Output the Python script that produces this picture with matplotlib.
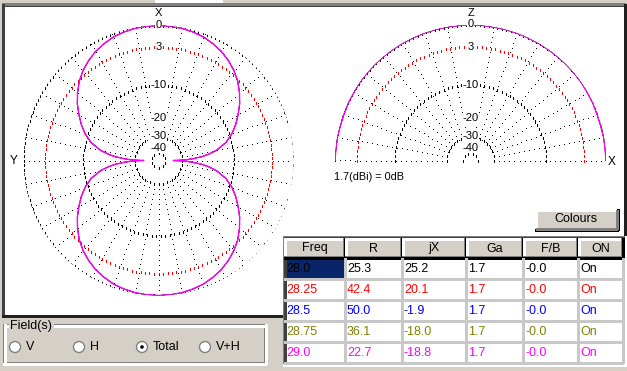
import numpy as np
import matplotlib
matplotlib.use("Agg")
import matplotlib.pyplot as plt
from matplotlib.patches import Rectangle, Circle

plt.rcParams['font.family'] = ['Liberation Sans', 'DejaVu Sans']

# ---------------- data ----------------
freqs = ["28.0", "28.25", "28.5", "28.75", "29.0"]
R_vals = [25.3, 42.4, 50.0, 36.1, 22.7]
jX_vals = [25.2, 20.1, -1.9, -18.0, -18.8]
Ga_vals = [1.7, 1.7, 1.7, 1.7, 1.7]
FB_vals = ["-0.0", "-0.0", "-0.0", "-0.0", "-0.0"]
ON_vals = ["On", "On", "On", "On", "On"]
series_colors = ["#000000", "#FF0000", "#0000FF", "#808000", "#FF00FF"]
headers = ["Freq", "R", "jX", "Ga", "F/B", "ON"]

# azimuth (total field), degrees clockwise from X, relative dB
az_deg = [0, 5, 10, 15, 20, 25, 30, 35, 40, 45, 50, 55, 60, 65, 70, 75, 80, 83, 85, 87, 88, 89, 90,
          91, 92, 93, 95, 97, 100, 105, 110, 115, 120, 125, 130, 135, 140, 145, 150, 155, 160, 165, 170, 175, 180,
          185, 190, 195, 200, 205, 210, 215, 220, 225, 230, 235, 240, 245, 250, 255, 260, 263, 265, 267, 268, 269, 270,
          271, 272, 273, 275, 277, 280, 285, 290, 295, 300, 305, 310, 315, 320, 325, 330, 335, 340, 345, 350, 355, 360]
az_db = [0.0, -0.03, -0.1, -0.25, -0.45, -0.8, -1.2, -1.75, -2.4, -3.2, -4.2, -5.3, -6.6, -7.9, -9.4, -11.3, -14.2, -17.0, -19.5, -23.5, -26.0, -29.0, -38.0,
         -29.0, -26.0, -23.5, -19.5, -17.0, -14.2, -11.3, -9.4, -7.9, -6.6, -5.3, -4.2, -3.2, -2.4, -1.75, -1.2, -0.8, -0.45, -0.25, -0.1, -0.03, 0.0,
         -0.03, -0.1, -0.25, -0.45, -0.8, -1.2, -1.75, -2.4, -3.2, -4.2, -5.3, -6.6, -7.9, -9.4, -11.3, -14.2, -17.0, -19.5, -23.5, -26.0, -29.0, -38.0,
         -29.0, -26.0, -23.5, -19.5, -17.0, -14.2, -11.3, -9.4, -7.9, -6.6, -5.3, -4.2, -3.2, -2.4, -1.75, -1.2, -0.8, -0.45, -0.25, -0.1, -0.03, 0.0]

# elevation (X-Z plane), degrees from +X toward Z, relative dB
el_deg = [0, 5, 10, 15, 20, 25, 30, 35, 40, 45, 50, 55, 60, 65, 70, 75, 80, 85, 90,
          95, 100, 105, 110, 115, 120, 125, 130, 135, 140, 145, 150, 155, 160, 165, 170, 175, 180]
el_db = [0.0, -0.05, -0.05, -0.1, -0.1, -0.05, -0.05, 0.0, 0.0, 0.0, 0.0, 0.0, 0.0, 0.0, 0.0, 0.0, 0.0, 0.0, 0.0,
         0.0, 0.0, 0.0, 0.0, 0.0, 0.0, 0.0, 0.0, 0.0, 0.0, 0.0, -0.05, -0.05, -0.1, -0.1, -0.05, -0.05, 0.0]

ring_db = [0, -3, -10, -30, -50]
ring_col = ["black", "red", "black", "black", "black"]
label_db = [0, -3, -10, -20, -30, -40]
label_txt = ["0", "3", "-10", "-20", "-30", "-40"]


def rr(db):
    # ARRL log scale: radius factor 0.89 per 2 dB
    return 0.89 ** (-np.asarray(db, dtype=float) / 2.0)


W, H = 627, 371
GRAY = "#D4D0C8"
fig = plt.figure(figsize=(W / 100, H / 100), dpi=100, facecolor=GRAY)
ax0 = fig.add_axes([0, 0, 1, 1])
ax0.set_xlim(0, W)
ax0.set_ylim(H, 0)
ax0.axis("off")


def rect(x0, y0, x1, y1, fc, ec="none", z=1):
    ax0.add_patch(Rectangle((x0, y0), x1 - x0, y1 - y0, fc=fc, ec=ec, lw=0, zorder=z))


def hl(x0, x1, y, c, z=3):
    ax0.plot([x0, x1], [y, y], color=c, lw=0.75, antialiased=False, zorder=z, solid_capstyle="butt")


def vl(x, y0, y1, c, z=3):
    ax0.plot([x, x], [y0, y1], color=c, lw=0.75, antialiased=False, zorder=z, solid_capstyle="butt")


# top strip tab
rect(155, 0, 223, 3, "white")
# white drawing panel
rect(3, 4, 625, 236, "white")
rect(3, 236, 283, 315, "white")
hl(2, 625, 4.5, "#404040")
hl(2, 625, 3.5, "#808080")
vl(2.5, 4, 316, "#404040")
vl(624.5, 4, 236, "#202020")
hl(2, 283, 315.5, "#202020")

# -------- table --------
col_x = [284, 345, 402, 466, 523, 578, 623]
row_y0 = 238
hdr_h = 20
row_h = 21
rect(283, 236, 625, 365, GRAY, z=1)
rect(284, 258, 623, 258 + 5 * row_h, "white", z=1)
vl(283.5, 236, 365, "#808080")
hl(283, 625, 236.5, "#808080")
vl(284.5, 237, 364, "#404040")
hl(284, 624, 237.5, "#404040")
hl(283, 626, 364.5, "white")
vl(625.5, 236, 365, "white")
for j, hname in enumerate(headers):
    x0, x1 = col_x[j], col_x[j + 1]
    rect(x0, row_y0, x1, row_y0 + hdr_h, GRAY, z=1)
    hl(x0, x1, row_y0 + 0.5, "white")
    vl(x0 + 0.5, row_y0, row_y0 + hdr_h, "white")
    vl(x1 - 1.5, row_y0, row_y0 + hdr_h, "#808080")
    hl(x0, x1, row_y0 + hdr_h - 1.5, "#808080")
    vl(x1 - 0.5, row_y0, row_y0 + hdr_h, "black")
    hl(x0, x1, row_y0 + hdr_h - 0.5, "black")
    ax0.text((x0 + x1) / 2, row_y0 + hdr_h / 2 + 0.5, hname, ha="center", va="center",
             fontsize=9, color="black", zorder=5)

rows = []
for i in range(5):
    rows.append([freqs[i], f"{R_vals[i]:.1f}", f"{jX_vals[i]:.1f}", f"{Ga_vals[i]:.1f}", FB_vals[i], ON_vals[i]])
for i, row in enumerate(rows):
    y0 = 258 + i * row_h
    for j, val in enumerate(row):
        x0, x1 = col_x[j], col_x[j + 1]
        if i == 0 and j == 0:
            rect(x0, y0, x1 - 1, y0 + row_h - 1, "#0A246A", z=2)
        ax0.text(x0 + 2, y0 + row_h / 2 + 0.5, val, ha="left", va="center",
                 fontsize=9, color=series_colors[i], zorder=5)
    hl(284, 623, y0 + row_h - 0.5, "#C8C8C8")
for x in col_x[1:]:
    vl(x - 0.5, 258, 258 + 5 * row_h, "#C8C8C8")

# -------- Colours button --------
rect(535, 209, 618, 230, GRAY, z=2)
hl(535, 618, 209.5, "white")
vl(535.5, 209, 230, "white")
hl(535, 618, 229.5, "black")
vl(617.5, 209, 230, "black")
hl(536, 617, 228.5, "#808080")
vl(616.5, 210, 229, "#808080")
ax0.text(576, 219.5, "Colours", ha="center", va="center", fontsize=9, color="black", zorder=5)

ax0.text(334, 177, "1.7(dBi) = 0dB", ha="left", va="center", fontsize=7.8, color="black", zorder=5)

# -------- Field(s) group --------
gx0, gy0, gx1, gy1 = 3, 324, 266, 364
for (c, o) in (("#808080", 0.5), ("white", 1.5)):
    hl(gx0 + o - 0.5, 8, gy0 + o, c)
    hl(54, gx1 - 1 + o - 0.5, gy0 + o, c)
    vl(gx0 + o, gy0, gy1, c)
    vl(gx1 - 1.5 + o, gy0, gy1, c)
    hl(gx0, gx1, gy1 - 1.5 + o, c)
ax0.text(10, 326, "Field(s)", ha="left", va="center", fontsize=9, color="black", zorder=5)
radio_x = [15, 79, 142, 205]
radio_lbl = ["V", "H", "Total", "V+H"]
for k, (rx, lb) in enumerate(zip(radio_x, radio_lbl)):
    ax0.add_patch(Circle((rx, 347), 5.5, fc="white", ec="#808080", lw=1.0, zorder=4))
    if lb == "Total":
        ax0.add_patch(Circle((rx, 347), 1.8, fc="black", ec="none", zorder=5))
    ax0.text(rx + 11, 347, lb, ha="left", va="center", fontsize=9, color="black", zorder=5)

# axis letters
ax0.text(158.5, 13, "X", ha="center", va="center", fontsize=8, zorder=5)
ax0.text(14, 161, "Y", ha="center", va="center", fontsize=8.5, zorder=5)
ax0.text(470.5, 13, "Z", ha="center", va="center", fontsize=8, zorder=5)
ax0.text(612, 162, "X", ha="center", va="center", fontsize=8.5, zorder=5)


def polar_axes(cx, cy, R, zero, direction):
    a = fig.add_axes([(cx - R) / W, (H - cy - R) / H, 2 * R / W, 2 * R / H], projection="polar")
    a.set_theta_zero_location(zero)
    a.set_theta_direction(direction)
    a.set_ylim(0, 1)
    a.axis("off")
    return a


RINGKW = dict(ls="none", marker="s", ms=0.78, mew=0, antialiased=False, zorder=2)
SPOKEKW = dict(ls="none", marker="s", ms=0.72, mew=0, antialiased=False, zorder=2)


def draw_grid(a, R, t0, t1, label_theta, label_dy, spoke_skip):
    for db, col in zip(ring_db, ring_col):
        rpx = rr(db) * R
        n = max(int(np.radians(t1 - t0) * rpx / 4.5), 4)
        th = np.radians(np.linspace(t0, t1, n + 1))
        a.plot(th, np.full_like(th, rr(db)), color=col, **RINGKW)
    r_in, r_out = rr(-30), rr(0)
    n = int((r_out - r_in) * R / 5.0)
    rs = np.linspace(r_in, r_out, n + 1)
    for ang in range(t0, t1 + 1, 10):
        if ang in spoke_skip:
            continue
        a.plot(np.full_like(rs, np.radians(ang)), rs, color="black", **SPOKEKW)
    for db, txt, dy in zip(label_db, label_txt, label_dy):
        a.annotate(txt, (label_theta, rr(db)), xytext=(0, dy), textcoords="offset pixels",
                   ha="center", va="center", fontsize=8, color="black", zorder=6,
                   bbox=dict(fc="white", ec="none", pad=0.1))


label_dy = [1, 0, 0, 0, 1, -1]

# left: azimuth
axL = polar_axes(158.5, 160.5, 135, "N", -1)
draw_grid(axL, 135, 0, 360, 0.0, label_dy, [0, 360])
for c in series_colors[:-1]:
    axL.plot(np.radians(az_deg), rr(az_db), color=c, lw=0.5, zorder=3)
axL.plot(np.radians(az_deg), rr(az_db), color=series_colors[-1], lw=1.0, zorder=4)

# right: elevation
axR = polar_axes(470.5, 160.5, 135.5, "E", 1)
draw_grid(axR, 135.5, 0, 180, np.pi / 2, label_dy, [90])
for c in series_colors[:-1]:
    axR.plot(np.radians(el_deg), rr(el_db), color=c, lw=0.5, zorder=3)
axR.plot(np.radians(el_deg), rr(el_db), color=series_colors[-1], lw=1.0, zorder=4)

fig.savefig("out.png", dpi=100, facecolor=GRAY)
